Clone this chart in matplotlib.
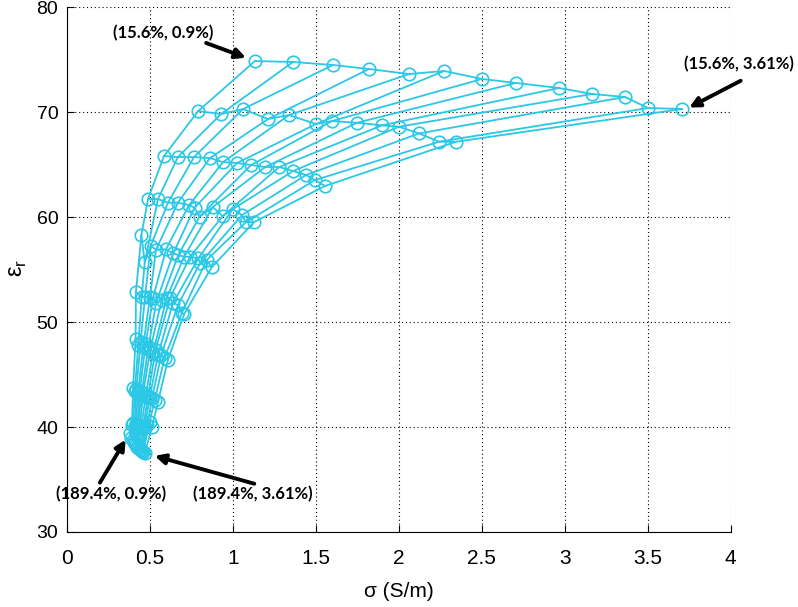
import matplotlib.pyplot as plt
import numpy as np

# conductivity (S/m) per water-content row (15.6% ... 189.4%), columns = salinity 0.9% ... 3.61%
sigma = [
    [1.134, 1.363, 1.604, 1.821, 2.062, 2.273, 2.502, 2.707, 2.966, 3.165, 3.364, 3.502, 3.707],
    [0.792, 0.930, 1.062, 1.213, 1.339, 1.502, 1.598, 1.749, 1.899, 2.002, 2.122, 2.243, 2.345],
    [0.586, 0.670, 0.767, 0.863, 0.942, 1.026, 1.111, 1.196, 1.280, 1.364, 1.442, 1.496, 1.556],
    [0.490, 0.550, 0.610, 0.670, 0.737, 0.770, 0.800, 0.880, 0.940, 1.000, 1.056, 1.080, 1.128],
    [0.450, 0.470, 0.506, 0.538, 0.598, 0.642, 0.672, 0.707, 0.743, 0.793, 0.803, 0.843, 0.873],
    [0.417, 0.452, 0.472, 0.502, 0.520, 0.538, 0.572, 0.602, 0.622, 0.640, 0.670, 0.693, 0.707],
    [0.415, 0.431, 0.445, 0.460, 0.475, 0.490, 0.505, 0.520, 0.535, 0.550, 0.570, 0.590, 0.610],
    [0.400, 0.410, 0.420, 0.430, 0.440, 0.450, 0.460, 0.475, 0.490, 0.500, 0.515, 0.530, 0.550],
    [0.393, 0.400, 0.410, 0.415, 0.425, 0.430, 0.440, 0.450, 0.460, 0.470, 0.485, 0.500, 0.514],
    [0.380, 0.390, 0.400, 0.405, 0.410, 0.420, 0.425, 0.430, 0.440, 0.450, 0.455, 0.460, 0.470],
]

# relative permittivity, same layout
eps_r = [
    [74.88, 74.79, 74.50, 74.12, 73.64, 73.93, 73.17, 72.79, 72.31, 71.74, 71.45, 70.40, 70.31],
    [70.11, 69.83, 70.30, 69.35, 69.73, 68.88, 69.16, 69.00, 68.75, 68.62, 67.98, 67.19, 67.19],
    [65.82, 65.73, 65.73, 65.63, 65.25, 65.16, 64.97, 64.78, 64.78, 64.40, 64.02, 63.54, 62.97],
    [61.73, 61.73, 61.38, 61.38, 61.15, 60.90, 60.04, 60.96, 60.10, 60.76, 60.20, 59.53, 59.53],
    [58.32, 55.70, 57.27, 56.89, 56.93, 56.55, 56.39, 56.23, 56.23, 56.07, 55.60, 55.91, 55.21],
    [52.86, 52.41, 52.41, 52.41, 52.29, 51.81, 52.10, 52.29, 52.29, 51.81, 51.63, 50.86, 50.76],
    [48.40, 47.80, 48.10, 47.60, 47.90, 47.40, 47.50, 47.10, 47.30, 46.90, 46.90, 46.60, 46.40],
    [43.70, 43.40, 43.60, 43.20, 43.40, 43.10, 43.20, 42.90, 43.00, 42.80, 42.80, 42.60, 42.40],
    [40.20, 40.40, 40.10, 40.30, 40.00, 40.20, 40.00, 40.10, 39.90, 40.00, 40.20, 40.50, 40.00],
    [39.40, 39.00, 38.80, 38.60, 38.50, 38.30, 38.10, 38.00, 37.90, 37.80, 37.70, 37.60, 37.50],
]

x_ticks = [0, 0.5, 1, 1.5, 2, 2.5, 3, 3.5, 4]
x_tick_labels = ["0", "0.5", "1", "1.5", "2", "2.5", "3", "3.5", "4"]
y_ticks = [30, 40, 50, 60, 70, 80]

# (label, text position, arrow tail, arrow head) in data units
notes = [
    ("(15.6%, 0.9%)", (0.58, 77.55), (0.84, 76.6), (1.08, 75.2)),
    ("(15.6%, 3.61%)", (4.05, 74.6), (4.06, 73.0), (3.75, 70.45)),
    ("(189.4%, 0.9%)", (0.27, 33.6), (0.20, 34.7), (0.355, 38.8)),
    ("(189.4%, 3.61%)", (1.12, 33.6), (1.13, 34.6), (0.53, 37.25)),
]

plt.rcParams['font.family'] = ['Liberation Sans', 'DejaVu Sans']

fig = plt.figure(figsize=(7.98, 6.07), dpi=100)
ax = fig.add_axes([66.7 / 798, 1 - 532 / 607, 664 / 798, 524.7 / 607])

col = '#2ac8e6'
s = np.array(sigma)
e = np.array(eps_r)
for i in range(s.shape[0]):
    ax.plot(s[i], e[i], '-o', color=col, lw=1.3, ms=9, mfc='none', mew=1.2)
for j in range(s.shape[1]):
    ax.plot(s[:, j], e[:, j], '-', color=col, lw=1.3)

ax.set_xlim(0, 4)
ax.set_ylim(30, 80)
ax.set_xticks(x_ticks)
ax.set_xticklabels(x_tick_labels, fontsize=15)
ax.set_yticks(y_ticks)
ax.grid(True, linestyle=(0, (1, 2.5)), color='black', lw=0.8)
ax.spines['top'].set_visible(False)
ax.spines['right'].set_visible(False)
ax.tick_params(direction='in', length=5)
ax.tick_params(axis='y', labelsize=14, pad=6)
ax.tick_params(axis='x', pad=12)

for label, txt, tail, head in notes:
    ax.annotate('', xy=head, xytext=tail,
                arrowprops=dict(arrowstyle='-|>,head_length=0.6,head_width=0.3',
                                lw=2.8, color='black', shrinkA=0, shrinkB=0),
                annotation_clip=False)
    ax.text(txt[0], txt[1], label, ha='center', va='center', fontsize=12,
            fontweight='bold', family=['Lato', 'DejaVu Sans'], clip_on=False)

ax.set_xlabel('σ (S/m)', fontsize=15, labelpad=10)
fig.text(0.022, 1 - 268 / 607, 'ε$_\\mathregular{r}$', rotation=90, fontsize=17,
         ha='center', va='center')

fig.savefig('out.png', dpi=100)
